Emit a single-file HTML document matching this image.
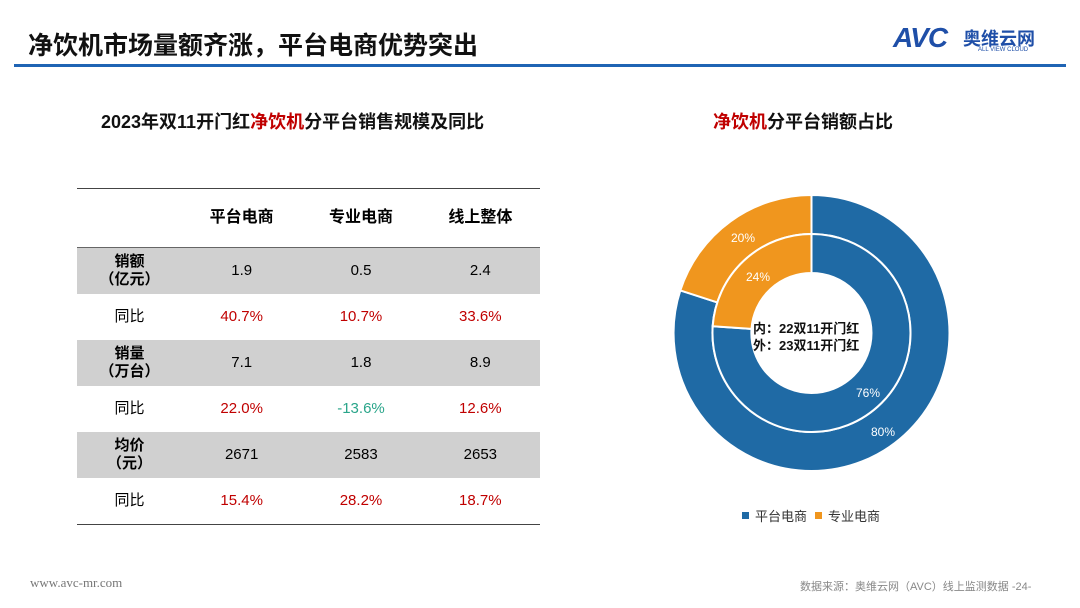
<!DOCTYPE html>
<html><head><meta charset="utf-8"><style>
body{margin:0;width:1080px;height:608px;background:#fff;position:relative;overflow:hidden;font-family:"Liberation Sans","Noto Sans CJK SC",sans-serif;}
.a{position:absolute;white-space:nowrap}
table{position:absolute;left:77px;top:188px;width:463px;border-collapse:collapse;font-size:15px;}
td{text-align:center;padding:0;height:46px;line-height:18px;}
tr.g td{background:#d0d0d0}
.r{color:#c00000}.gr{color:#2aa58a}
.b{font-weight:bold}
</style></head><body>
<div class="a b" style="left:28px;top:26px;font-size:25px;color:#111">净饮机市场量额齐涨，平台电商优势突出</div>
<div class="a" style="left:14px;top:64px;width:1052px;height:3px;background:#1f64b4"></div>
<div class="a b" style="left:893px;top:22px;font-size:28px;color:#1f4fa8;font-style:italic;letter-spacing:-1px">AVC</div>
<div class="a b" style="left:963px;top:25px;font-size:18px;color:#1f4fa8">奥维云网</div>
<div class="a" style="left:978px;top:47px;font-size:6px;color:#1f4fa8">ALL VIEW CLOUD</div>
<div class="a b" style="left:101px;top:108px;font-size:18px;color:#111">2023年双11开门红<span class="r">净饮机</span>分平台销售规模及同比</div>
<div class="a b" style="left:713px;top:108px;font-size:18px;color:#111"><span class="r">净饮机</span>分平台销额占比</div>
<table>
<tr style="border-top:1.5px solid #444;border-bottom:1.5px solid #666"><td style="width:105px;height:58px"></td><td class="b" style="font-size:16px">平台电商</td><td class="b" style="font-size:16px">专业电商</td><td class="b" style="font-size:16px">线上整体</td></tr>
<tr class="g"><td class="b">销额<br>（亿元）</td><td>1.9</td><td>0.5</td><td>2.4</td></tr>
<tr><td>同比</td><td class="r">40.7%</td><td class="r">10.7%</td><td class="r">33.6%</td></tr>
<tr class="g"><td class="b">销量<br>（万台）</td><td>7.1</td><td>1.8</td><td>8.9</td></tr>
<tr><td>同比</td><td class="r">22.0%</td><td class="gr">-13.6%</td><td class="r">12.6%</td></tr>
<tr class="g"><td class="b">均价<br>（元）</td><td>2671</td><td>2583</td><td>2653</td></tr>
<tr style="border-bottom:1.5px solid #444"><td>同比</td><td class="r">15.4%</td><td class="r">28.2%</td><td class="r">18.7%</td></tr>
</table>
<svg class="a" style="left:0;top:0" width="1080" height="608">
<g transform="translate(811.5,333)" stroke="#fff" stroke-width="2">
<path d="M0,-138 A138,138 0 0 1 0,138 A138,138 0 0 1 -131.2,-42.6 L-94.2,-30.6 A99,99 0 0 0 0,99 A99,99 0 0 0 0,-99 Z" fill="#1f6aa5"/>
<path d="M-131.2,-42.6 A138,138 0 0 1 0,-138 L0,-99 A99,99 0 0 0 -94.2,-30.6 Z" fill="#f0961e"/>
<path d="M0,-99 A99,99 0 0 1 0,99 A99,99 0 0 1 -98.8,-6.8 L-60,-4.1 A60,60 0 0 0 0,60 A60,60 0 0 0 0,-60 Z" fill="#1f6aa5"/>
<path d="M-98.8,-6.8 A99,99 0 0 1 0,-99 L0,-60 A60,60 0 0 0 -60,-4.1 Z" fill="#f0961e"/>
</g>
<g font-size="12" fill="#fff" font-family="Liberation Sans">
<text x="731" y="242">20%</text><text x="746" y="281">24%</text>
<text x="856" y="397">76%</text><text x="871" y="436">80%</text></g>
<g font-size="13" font-weight="bold" fill="#111"><text x="753" y="333">内：22双11开门红</text><text x="753" y="350">外：23双11开门红</text></g>
<rect x="742" y="512" width="7" height="7" fill="#1f6aa5"/><text x="755" y="521" font-size="13" fill="#333">平台电商</text>
<rect x="815" y="512" width="7" height="7" fill="#f0961e"/><text x="828" y="521" font-size="13" fill="#333">专业电商</text>
</svg>
<div class="a" style="left:30px;top:575px;font-size:13px;color:#777;font-family:'Liberation Serif',serif">www.avc-mr.com</div>
<div class="a" style="left:800px;top:578px;font-size:11px;color:#888">数据来源：奥维云网（AVC）线上监测数据 -24-</div>
</body></html>
